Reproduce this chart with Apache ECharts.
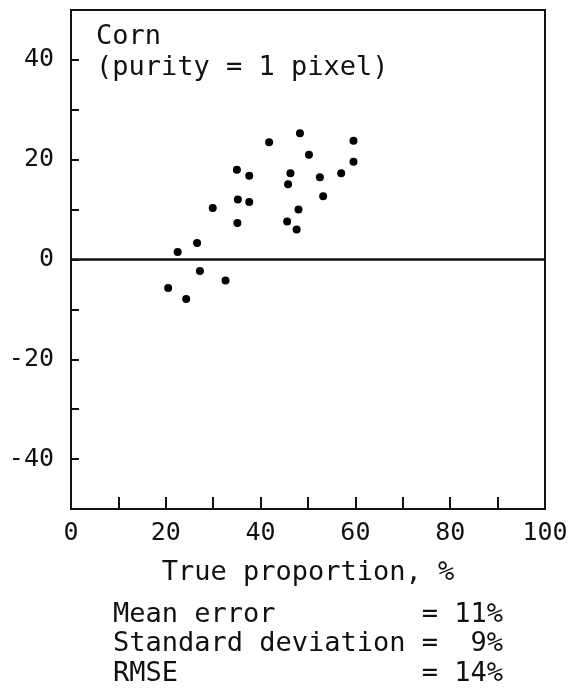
<!DOCTYPE html>
<html>
<head>
<meta charset="utf-8">
<script src="https://cdn.jsdelivr.net/npm/echarts@6/dist/echarts.min.js"></script>
<style>
  html, body { margin: 0; padding: 0; background: #fff; }
  #chart { width: 571px; height: 694px; }
</style>
</head>
<body>
<div id="chart"></div>
<script>
// true proportion (%) vs error (%)
var trueProp = [41.8, 48.3, 59.6, 50.2, 59.6, 35.0, 37.6, 46.3, 45.8, 52.5, 57.0, 53.2, 35.2,
  37.6, 29.9, 48.0, 35.1, 45.6, 47.6, 26.6, 22.5, 27.2, 32.6, 20.5, 24.3]
var errVal = [23.5, 25.3, 23.8, 21.0, 19.6, 18.0, 16.8, 17.3, 15.1, 16.5, 17.3, 12.7, 12.0,
  11.5, 10.3, 10.0, 7.3, 7.6, 6.0, 3.3, 1.5, -2.3, -4.2, -5.7, -7.9]
var xLabels = [0, 20, 40, 60, 80, 100]
var yLabels = [-40, -20, 0, 20, 40]
var titleLines = ['Corn', '(purity = 1 pixel)']
var statLines = [
  'Mean error         = 11%',
  'Standard deviation =  9%',
  'RMSE               = 14%'
]

var FONT = '"DejaVu Sans Mono", monospace'
var myChart = echarts.init(document.getElementById('chart'))

var points = trueProp.map(function (x, i) {
  return [x, errVal[i]]
})

var graphics = []
titleLines.forEach(function (t, i) {
  graphics.push({
    type: 'text', left: 96, top: 23 + i * 31,
    style: { text: t, font: '27px ' + FONT, fill: '#111' }
  })
})
statLines.forEach(function (t, i) {
  graphics.push({
    type: 'text', left: 113, top: 601 + i * 29.5,
    style: { text: t, font: '27px ' + FONT, fill: '#111' }
  })
})

var option = {
  backgroundColor: '#fff',
  animation: false,
  grid: {
    left: 71,
    right: 26,
    top: 10,
    bottom: 185,
    show: true,
    borderColor: '#111',
    borderWidth: 2
  },
  xAxis: {
    type: 'value',
    min: 0,
    max: 100,
    interval: 10,
    name: 'True proportion, %',
    nameLocation: 'middle',
    nameGap: 50,
    nameTextStyle: { fontFamily: FONT, fontSize: 27, color: '#111' },
    axisLine: { onZero: false, lineStyle: { color: '#111', width: 2 } },
    axisTick: { inside: true, length: 12, lineStyle: { color: '#111', width: 2 } },
    axisLabel: {
      margin: 12,
      fontFamily: FONT,
      fontSize: 25,
      color: '#111',
      formatter: function (v) {
        return xLabels.indexOf(v) >= 0 ? String(v) : ''
      }
    },
    splitLine: { show: false }
  },
  yAxis: {
    type: 'value',
    min: -50,
    max: 50,
    interval: 10,
    axisLine: { onZero: false, lineStyle: { color: '#111', width: 2 } },
    axisTick: { inside: true, length: 8, lineStyle: { color: '#111', width: 2 } },
    axisLabel: {
      margin: 17,
      fontFamily: FONT,
      fontSize: 25,
      color: '#111',
      formatter: function (v) {
        return yLabels.indexOf(v) >= 0 ? String(v) : ''
      }
    },
    splitLine: { show: false }
  },
  graphic: graphics,
  series: [{
    type: 'scatter',
    symbol: 'circle',
    symbolSize: 8,
    itemStyle: { color: '#000', opacity: 1 },
    data: points,
    markLine: {
      silent: true,
      symbol: 'none',
      label: { show: false },
      lineStyle: { color: '#111', width: 2.5, type: 'solid' },
      data: [{ yAxis: 0 }]
    }
  }]
}
myChart.setOption(option)
</script>
</body>
</html>
